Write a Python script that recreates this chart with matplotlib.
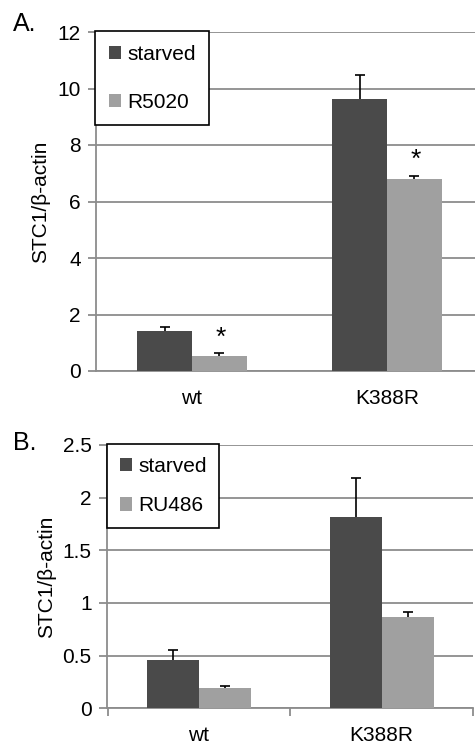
import matplotlib
matplotlib.use("Agg")
import matplotlib.pyplot as plt
import numpy as np

plt.rcParams['font.family'] = ['Liberation Sans', 'DejaVu Sans']

# data
groups = ['wt', 'K388R']

a_starved = [1.42, 9.63]
a_starved_err = [0.14, 0.84]
a_r5020 = [0.53, 6.78]
a_r5020_err = [0.11, 0.13]
a_ticks = [0, 2, 4, 6, 8, 10, 12]

b_starved = [0.46, 1.82]
b_starved_err = [0.09, 0.37]
b_ru486 = [0.19, 0.867]
b_ru486_err = [0.025, 0.045]
b_ticks = [0, 0.5, 1, 1.5, 2, 2.5]
b_ticklabels = ['0', '0.5', '1', '1.5', '2', '2.5']

dark = '#4a4a4a'
light = '#a0a0a0'
gridc = '#8c8c8c'

W, H = 475, 752
fig = plt.figure(figsize=(W / 100, H / 100), dpi=100)


def px_axes(left, top, right, bottom):
    return fig.add_axes([left / W, 1 - bottom / H, (right - left) / W, (bottom - top) / H])


def plus_errorbar(ax, x, y, err):
    # excel style: only the upper half of the error bar
    cont = ax.errorbar(x, y, yerr=[np.zeros(len(y)), err], fmt='none',
                       ecolor='black', elinewidth=1.2, capsize=3.5, capthick=1.2, zorder=4)
    cont[1][0].set_visible(False)


def panel(ax, s1, e1, s2, e2, width, labels, xpad):
    x = np.arange(len(groups))
    ax.bar(x - width / 2, s1, width, color=dark, zorder=3, label=labels[0])
    ax.bar(x + width / 2, s2, width, color=light, zorder=3, label=labels[1])
    plus_errorbar(ax, x - width / 2, s1, e1)
    plus_errorbar(ax, x + width / 2, s2, e2)
    ax.yaxis.grid(True, color=gridc, lw=1.3, zorder=0)
    ax.set_axisbelow(True)
    for s in ['top', 'right']:
        ax.spines[s].set_visible(False)
    for s in ['left', 'bottom']:
        ax.spines[s].set_color(gridc)
        ax.spines[s].set_linewidth(1.3)
    ax.tick_params(axis='y', length=6, width=1.3, color=gridc, labelsize=15, pad=5)
    ax.set_xticks(x)
    ax.set_xticklabels(groups, fontsize=15)
    ax.tick_params(axis='x', length=0, pad=xpad)
    ax.set_ylabel('STC1/β-actin', fontsize=15, labelpad=5)


# panel A
ax1 = px_axes(96, 32, 475, 371)
panel(ax1, a_starved, a_starved_err, a_r5020, a_r5020_err, 0.28, ['starved', 'R5020'], 13)
ax1.set_ylim(0, 12)
ax1.set_yticks(a_ticks)
ax1.set_xlim(-0.492, 1.451)
for i in range(len(groups)):
    ax1.text(i + 0.145, a_r5020[i] + a_r5020_err[i] + 0.55, '*', ha='center',
             va='center', fontsize=19)
leg1 = ax1.legend(loc='upper left', bbox_to_anchor=(95 / W, 1 - 31 / H),
                  bbox_transform=fig.transFigure, borderaxespad=0, fontsize=15,
                  handlelength=0.6, handleheight=0.6, handletextpad=0.3,
                  labelspacing=1.4, borderpad=0.65, fancybox=False, framealpha=1)
leg1.get_frame().set_edgecolor('black')
leg1.get_frame().set_linewidth(1.2)
fig.text(13 / W, 1 - 24 / H, 'A.', fontsize=18, ha='left', va='center')

# panel B
ax2 = px_axes(107, 445, 473, 708.3)
panel(ax2, b_starved, b_starved_err, b_ru486, b_ru486_err, 0.285, ['starved', 'RU486'], 13)
ax2.set_ylim(0, 2.5)
ax2.set_yticks(b_ticks)
ax2.set_yticklabels(b_ticklabels)
ax2.set_xlim(-0.503, 1.497)
ax2.set_xticks([-0.5, 0.5, 1.5], minor=True)
ax2.tick_params(axis='x', which='minor', length=6, width=1.3, color=gridc)
leg2 = ax2.legend(loc='upper left', bbox_to_anchor=(107 / W, 1 - 444 / H),
                  bbox_transform=fig.transFigure, borderaxespad=0, fontsize=15,
                  handlelength=0.6, handleheight=0.6, handletextpad=0.3,
                  labelspacing=1.0, borderpad=0.6, fancybox=False, framealpha=1)
leg2.get_frame().set_edgecolor('black')
leg2.get_frame().set_linewidth(1.2)
fig.text(13 / W, 1 - 443 / H, 'B.', fontsize=18, ha='left', va='center')

fig.savefig('out.png', dpi=100)
